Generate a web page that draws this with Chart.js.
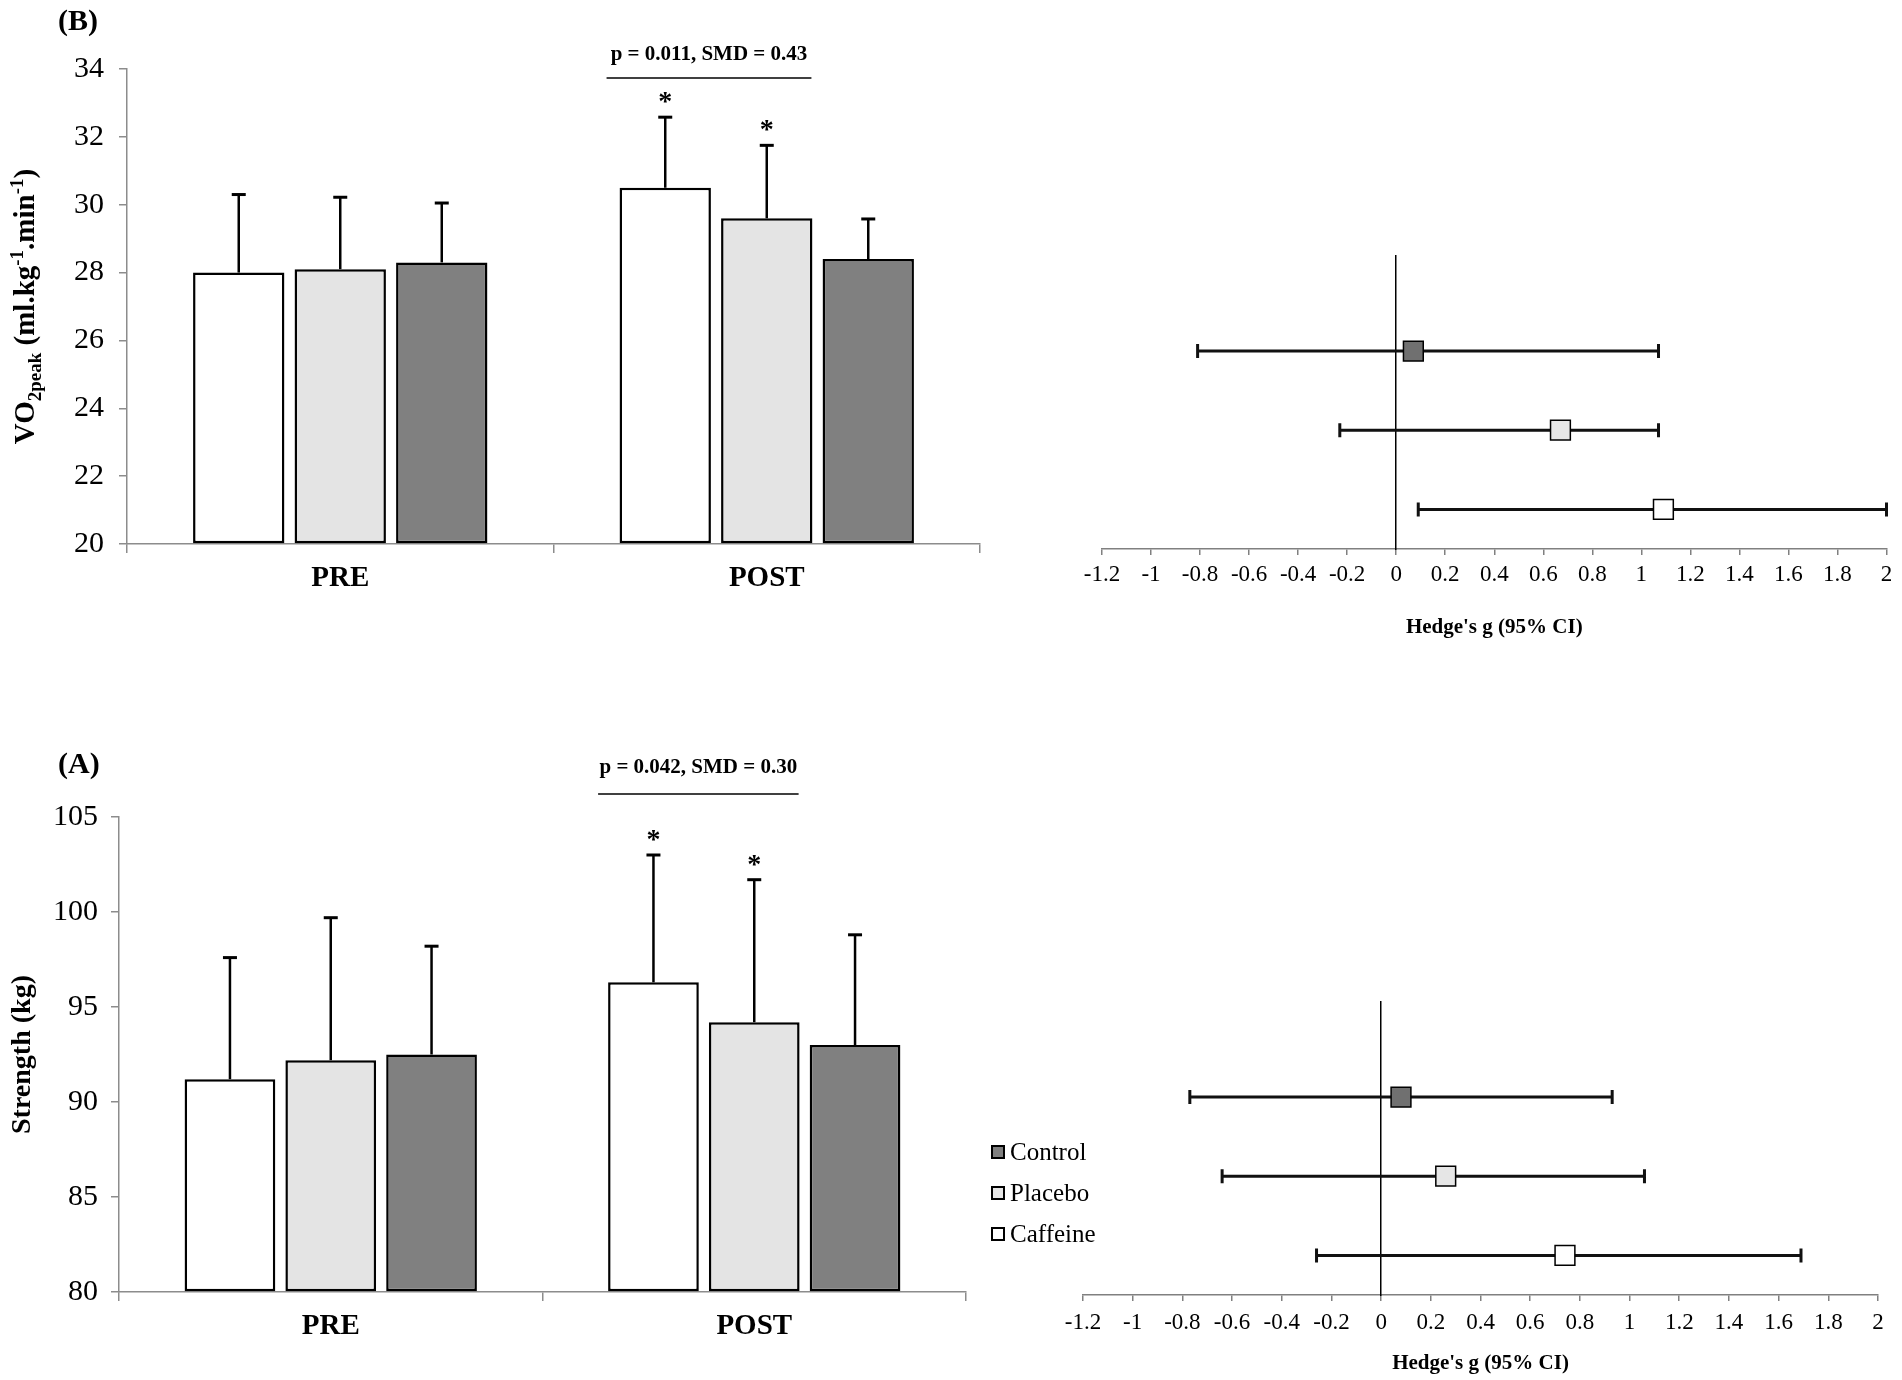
<!DOCTYPE html>
<html>
<head>
<meta charset="utf-8">
<script src="https://cdn.jsdelivr.net/npm/chart.js@4.4.0/dist/chart.umd.min.js"></script>
<style>
  html, body { margin: 0; padding: 0; background: #fff; }
  body { width: 1902px; height: 1380px; position: relative; overflow: hidden; }
  canvas { position: absolute; }
</style>
</head>
<body>
<canvas id="vo2Bars" width="1000" height="640" style="left:0;top:0"></canvas>
<canvas id="vo2Forest" width="942" height="660" style="left:960px;top:0"></canvas>
<canvas id="strBars" width="1000" height="660" style="left:0;top:720px"></canvas>
<canvas id="strForest" width="942" height="660" style="left:960px;top:720px"></canvas>
<script>
const phases = ['PRE', 'POST'];
const groups = ['Caffeine', 'Placebo', 'Control'];
const groupColors = ['#ffffff', '#e4e4e4', '#808080'];

// VO2peak, mean and SD per group (PRE, POST)
const vo2Caffeine = [28.0, 30.5];
const vo2Placebo = [28.1, 29.6];
const vo2Control = [28.3, 28.4];
const vo2CaffeineSd = [2.3, 2.08];
const vo2PlaceboSd = [2.12, 2.15];
const vo2ControlSd = [1.75, 1.18];
const vo2Ticks = [20, 22, 24, 26, 28, 30, 32, 34];

// Strength (kg), mean and SD per group (PRE, POST)
const strCaffeine = [91.2, 96.3];
const strPlacebo = [92.2, 94.2];
const strControl = [92.5, 93.0];
const strCaffeineSd = [6.4, 6.7];
const strPlaceboSd = [7.5, 7.5];
const strControlSd = [5.7, 5.8];
const strTicks = [80, 85, 90, 95, 100, 105];

// bars marked with * : [group index, phase index]
const starred = [[0, 1], [1, 1]];

// Hedge's g (95% CI)
const forestGroups = ['Control', 'Placebo', 'Caffeine'];
const forestColors = ['#707070', '#e6e6e6', '#ffffff'];
const legendColors = ['#7f7f7f', '#e6e6e6', '#ffffff'];
const forestRows = [2.5, 1.5, 0.5];
const vo2G = [0.07, 0.67, 1.09];
const vo2Lo = [-0.81, -0.23, 0.09];
const vo2Hi = [1.07, 1.07, 2.0];
const strG = [0.08, 0.26, 0.74];
const strLo = [-0.77, -0.64, -0.26];
const strHi = [0.93, 1.06, 1.69];
const hedgeTicks = [-1.2, -1, -0.8, -0.6, -0.4, -0.2, 0, 0.2, 0.4, 0.6, 0.8, 1, 1.2, 1.4, 1.6, 1.8, 2];

const SERIF = "'Liberation Serif', 'Times New Roman', serif";
Chart.defaults.font.family = SERIF;
Chart.defaults.color = '#000';

function drawRotated(ctx, parts, cx, cy) {
  ctx.save();
  ctx.translate(cx, cy);
  ctx.rotate(-Math.PI / 2);
  ctx.textAlign = 'left';
  ctx.textBaseline = 'alphabetic';
  ctx.fillStyle = '#000';
  let total = 0;
  parts.forEach(p => {
    ctx.font = 'bold ' + p.size + 'px ' + SERIF;
    p.w = ctx.measureText(p.text).width;
    total += p.w;
  });
  let x = -total / 2;
  parts.forEach(p => {
    ctx.font = 'bold ' + p.size + 'px ' + SERIF;
    ctx.fillText(p.text, x, p.dy);
    x += p.w;
  });
  ctx.restore();
}

function barExtras(cfg) {
  return {
    id: 'barExtras',
    afterDatasetsDraw(chart) {
      const ctx = chart.ctx;
      const y = chart.scales.y;
      const area = chart.chartArea;
      ctx.save();
      ctx.strokeStyle = '#000';
      ctx.fillStyle = '#000';
      // upper error bars
      chart.data.datasets.forEach((ds, i) => {
        chart.getDatasetMeta(i).data.forEach((bar, j) => {
          const top = y.getPixelForValue(ds.data[j] + cfg.sd[i][j]);
          ctx.lineWidth = 2.5;
          ctx.beginPath();
          ctx.moveTo(bar.x, bar.y);
          ctx.lineTo(bar.x, top);
          ctx.stroke();
          ctx.lineWidth = 3;
          ctx.beginPath();
          ctx.moveTo(bar.x - 7, top);
          ctx.lineTo(bar.x + 7, top);
          ctx.stroke();
        });
      });
      // stars
      ctx.font = 'bold 28px ' + SERIF;
      ctx.textAlign = 'center';
      ctx.textBaseline = 'alphabetic';
      starred.forEach(([i, j]) => {
        const bar = chart.getDatasetMeta(i).data[j];
        const top = y.getPixelForValue(chart.data.datasets[i].data[j] + cfg.sd[i][j]);
        ctx.fillText('*', bar.x, top - 7);
      });
      // comparison line and note
      const a = chart.getDatasetMeta(0).data[1];
      const b = chart.getDatasetMeta(1).data[1];
      const x1 = a.x - a.width / 2 - cfg.lineLeft;
      const x2 = b.x + b.width / 2 - 1;
      ctx.lineWidth = 1.5;
      ctx.beginPath();
      ctx.moveTo(x1, cfg.lineY);
      ctx.lineTo(x2, cfg.lineY);
      ctx.stroke();
      ctx.font = 'bold 21px ' + SERIF;
      ctx.textBaseline = 'middle';
      ctx.fillText(cfg.note, (x1 + x2) / 2, cfg.noteY);
      // panel letter
      ctx.font = 'bold 30px ' + SERIF;
      ctx.textAlign = 'left';
      ctx.fillText(cfg.panel, 58, cfg.panelY);
      ctx.restore();
      drawRotated(ctx, cfg.title, cfg.titleX, (area.top + area.bottom) / 2);
    }
  };
}

function barChart(id, series, sds, ticks, cfg) {
  return new Chart(document.getElementById(id), {
    type: 'bar',
    data: {
      labels: phases,
      datasets: groups.map((g, i) => ({
        label: g,
        data: series[i],
        backgroundColor: groupColors[i],
        borderColor: '#000',
        borderWidth: 2.5,
        borderSkipped: false,
        base: ticks[0],
        categoryPercentage: 0.714,
        barPercentage: 0.9
      }))
    },
    options: {
      responsive: false,
      animation: false,
      layout: { padding: { top: cfg.top, right: cfg.right, left: 0, bottom: 0 } },
      plugins: { legend: { display: false }, tooltip: { enabled: false } },
      scales: {
        x: {
          grid: { drawOnChartArea: false, tickLength: 9, color: '#8c8c8c', lineWidth: 1.5 },
          border: { color: '#8c8c8c', width: 1.5 },
          ticks: { font: { size: 29, weight: 'bold' }, padding: 8 },
          afterFit: s => { s.height = cfg.xHeight; }
        },
        y: {
          min: ticks[0],
          max: ticks[ticks.length - 1],
          afterBuildTicks: s => { s.ticks = ticks.map(v => ({ value: v })); },
          grid: { drawOnChartArea: false, tickLength: 8, color: '#8c8c8c', lineWidth: 1.5 },
          border: { color: '#8c8c8c', width: 1.5 },
          ticks: { font: { size: 30 }, padding: cfg.tickPad },
          afterFit: s => { s.width = cfg.yWidth; }
        }
      }
    },
    plugins: [barExtras(Object.assign({ sd: sds }, cfg))]
  });
}

function ciBars(lo, hi) {
  return {
    id: 'ciBars',
    beforeDatasetsDraw(chart) {
      const ctx = chart.ctx;
      const xs = chart.scales.x, ys = chart.scales.y;
      ctx.save();
      ctx.strokeStyle = '#111';
      ctx.lineWidth = 3;
      forestRows.forEach((row, i) => {
        const yy = ys.getPixelForValue(row);
        const x1 = xs.getPixelForValue(lo[i]);
        const x2 = xs.getPixelForValue(hi[i]);
        ctx.beginPath();
        ctx.moveTo(x1, yy); ctx.lineTo(x2, yy);
        ctx.moveTo(x1, yy - 7); ctx.lineTo(x1, yy + 7);
        ctx.moveTo(x2, yy - 7); ctx.lineTo(x2, yy + 7);
        ctx.stroke();
      });
      ctx.restore();
    }
  };
}

const groupLegend = {
  id: 'groupLegend',
  afterDraw(chart) {
    const ctx = chart.ctx;
    ctx.save();
    ctx.font = '25px ' + SERIF;
    ctx.textAlign = 'left';
    ctx.textBaseline = 'alphabetic';
    forestGroups.forEach((name, i) => {
      const cy = 432 + 41 * i;
      ctx.fillStyle = legendColors[i];
      ctx.fillRect(32, cy - 6, 12, 12);
      ctx.strokeStyle = '#000';
      ctx.lineWidth = 2;
      ctx.strokeRect(32, cy - 6, 12, 12);
      ctx.fillStyle = '#000';
      ctx.fillText(name, 50, cy + 8);
    });
    ctx.restore();
  }
};

function forestChart(id, g, lo, hi, cfg, extra) {
  return new Chart(document.getElementById(id), {
    type: 'scatter',
    data: {
      datasets: forestGroups.map((name, i) => ({
        label: name,
        data: [{ x: g[i], y: forestRows[i] }],
        pointStyle: 'rect',
        pointRadius: 14,
        backgroundColor: forestColors[i],
        borderColor: '#000',
        borderWidth: 1.5
      }))
    },
    options: {
      responsive: false,
      animation: false,
      layout: { padding: { left: cfg.left, right: cfg.right, top: cfg.top, bottom: 0 } },
      plugins: { legend: { display: false }, tooltip: { enabled: false } },
      scales: {
        x: {
          type: 'linear',
          position: 'bottom',
          min: -1.2,
          max: 2,
          afterBuildTicks: s => { s.ticks = hedgeTicks.map(v => ({ value: v })); },
          ticks: {
            font: { size: 23 },
            padding: cfg.tickPad,
            maxRotation: 0,
            autoSkip: false,
            callback: v => String(Math.round(v * 10) / 10)
          },
          grid: { drawOnChartArea: false, tickLength: 6, color: '#808080', lineWidth: 1.5 },
          border: { color: '#808080', width: 1.5 },
          title: {
            display: true,
            text: "Hedge's g (95% CI)",
            font: { size: 21, weight: 'bold' },
            padding: { top: 0, bottom: cfg.titlePad }
          },
          afterFit: s => { s.height = cfg.xHeight; }
        },
        y: {
          type: 'linear',
          min: 0,
          max: 3.7,
          position: { x: 0 },
          ticks: { display: false },
          grid: { display: false, drawTicks: false },
          border: { color: '#000', width: 1.5 }
        }
      }
    },
    plugins: [ciBars(lo, hi)].concat(extra || [])
  });
}

barChart('vo2Bars',
  [vo2Caffeine, vo2Placebo, vo2Control],
  [vo2CaffeineSd, vo2PlaceboSd, vo2ControlSd],
  vo2Ticks,
  {
    top: 69, right: 20, yWidth: 127, xHeight: 96, tickPad: 15,
    note: 'p = 0.011, SMD = 0.43', noteY: 55, lineY: 78, lineLeft: 13,
    panel: '(B)', panelY: 22, titleX: 24,
    title: [
      { text: 'VO', size: 29, dy: 10 },
      { text: '2peak', size: 19, dy: 17 },
      { text: ' (ml.kg', size: 29, dy: 10 },
      { text: '-1', size: 19, dy: -1 },
      { text: '.min', size: 29, dy: 10 },
      { text: '-1', size: 19, dy: -1 },
      { text: ')', size: 29, dy: 10 }
    ]
  });

forestChart('vo2Forest', vo2G, vo2Lo, vo2Hi,
  { left: 142, right: 11, top: 256, xHeight: 111, tickPad: 6, titlePad: 20 });

barChart('strBars',
  [strCaffeine, strPlacebo, strControl],
  [strCaffeineSd, strPlaceboSd, strControlSd],
  strTicks,
  {
    top: 97, right: 34, yWidth: 119, xHeight: 88, tickPad: 13,
    note: 'p = 0.042, SMD = 0.30', noteY: 48, lineY: 74, lineLeft: 10,
    panel: '(A)', panelY: 45, titleX: 20,
    title: [{ text: 'Strength (kg)', size: 28, dy: 9.5 }]
  });

forestChart('strForest', strG, strLo, strHi,
  { left: 123, right: 24, top: 282, xHeight: 85, tickPad: 8, titlePad: 4 },
  [groupLegend]);
</script>
</body>
</html>
